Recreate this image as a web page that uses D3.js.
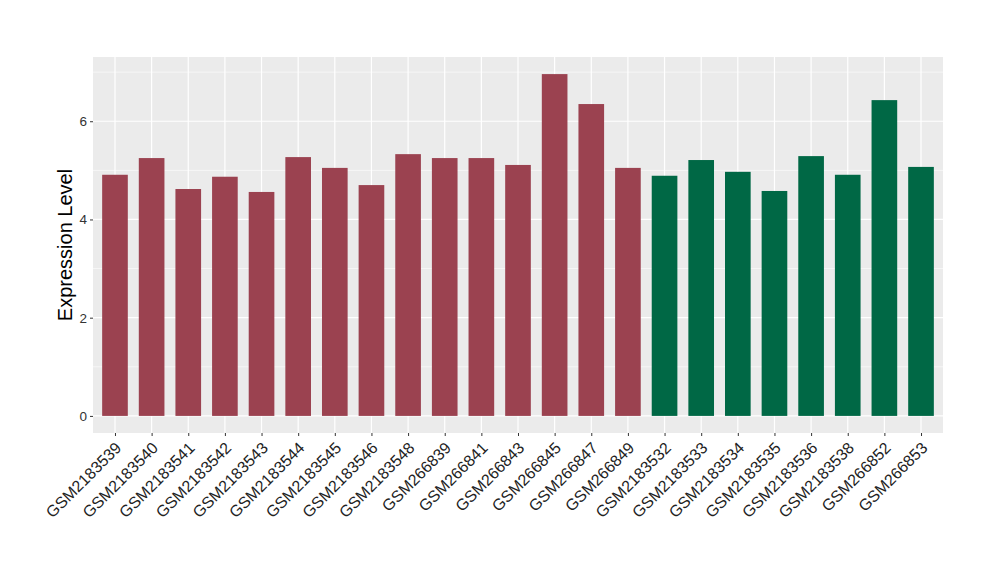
<!DOCTYPE html>
<html>
<head>
<meta charset="utf-8">
<script src="https://cdn.jsdelivr.net/npm/d3@7"></script>
<style>
  body { margin: 0; background: #fff; }
  svg { display: block; font-family: "Liberation Sans", Arial, sans-serif; }
</style>
</head>
<body>
<svg id="chart" width="1000" height="580"></svg>
<script>
const samples = ["GSM2183539","GSM2183540","GSM2183541","GSM2183542","GSM2183543","GSM2183544","GSM2183545","GSM2183546","GSM2183548","GSM266839","GSM266841","GSM266843","GSM266845","GSM266847","GSM266849","GSM2183532","GSM2183533","GSM2183534","GSM2183535","GSM2183536","GSM2183538","GSM266852","GSM266853"];
const values = [4.91,5.25,4.62,4.87,4.56,5.27,5.05,4.70,5.33,5.25,5.25,5.11,6.96,6.35,5.05,4.89,5.21,4.97,4.58,5.29,4.91,6.43,5.07];
const groups = ["A","A","A","A","A","A","A","A","A","A","A","A","A","A","A","B","B","B","B","B","B","B","B"];
const yTicks = [0,2,4,6];
const yMinor = [1,3,5,7];
const groupColors = {A: "#9b4250", B: "#006845"};

const svg = d3.select("#chart");
const m = {left: 93, right: 57, top: 57, bottom: 147};
const W = 1000, H = 580;
const pw = W - m.left - m.right, ph = H - m.top - m.bottom;

const ymax = d3.max(values);
const yexp = ymax * 0.05;
const y = d3.scaleLinear().domain([-yexp, ymax + yexp]).range([m.top + ph, m.top]);

const n = samples.length;
const unit = pw / (n - 1 + 1.2);
const x = d3.scalePoint().domain(samples).range([m.left + 0.6 * unit, m.left + pw - 0.6 * unit]);
const bw = unit * 0.7;

// panel background
svg.append("rect").attr("x", m.left).attr("y", m.top).attr("width", pw).attr("height", ph).attr("fill", "#ebebeb");

// minor grid
svg.append("g").selectAll("line").data(yMinor).join("line")
  .attr("x1", m.left).attr("x2", m.left + pw)
  .attr("y1", d => y(d)).attr("y2", d => y(d))
  .attr("stroke", "#fff").attr("stroke-width", 0.6);
// major grid
svg.append("g").selectAll("line").data(yTicks).join("line")
  .attr("x1", m.left).attr("x2", m.left + pw)
  .attr("y1", d => y(d)).attr("y2", d => y(d))
  .attr("stroke", "#fff").attr("stroke-width", 1.2);
svg.append("g").selectAll("line").data(samples).join("line")
  .attr("x1", d => x(d)).attr("x2", d => x(d))
  .attr("y1", m.top).attr("y2", m.top + ph)
  .attr("stroke", "#fff").attr("stroke-width", 1.2);

// bars
svg.append("g").selectAll("rect").data(samples).join("rect")
  .attr("x", d => x(d) - bw / 2)
  .attr("width", bw)
  .attr("y", (d, i) => y(values[i]))
  .attr("height", (d, i) => y(0) - y(values[i]))
  .attr("fill", (d, i) => groupColors[groups[i]]);

// y axis
const yAxis = svg.append("g").attr("transform", `translate(${m.left},0)`)
  .call(d3.axisLeft(y).tickValues(yTicks).tickSize(3).tickPadding(3).tickFormat(d3.format("d")));
yAxis.select(".domain").remove();
yAxis.selectAll(".tick line").attr("stroke", "#333");
yAxis.selectAll(".tick text").attr("fill", "#333").style("font-size", "13.5px");

// x axis
const xAxis = svg.append("g").attr("transform", `translate(0,${m.top + ph})`)
  .call(d3.axisBottom(x).tickSize(3).tickPadding(3));
xAxis.select(".domain").remove();
xAxis.selectAll(".tick line").attr("stroke", "#333");
xAxis.selectAll(".tick text")
  .attr("fill", "#222")
  .style("font-size", "16px")
  .attr("text-anchor", "end")
  .attr("dy", null)
  .attr("transform", "translate(-1,8) rotate(-45)")
  .attr("y", 0).attr("x", 0)
  .attr("dominant-baseline", "hanging");

// y title
svg.append("text")
  .attr("transform", `translate(72,${m.top + ph / 2}) rotate(-90)`)
  .attr("text-anchor", "middle")
  .style("font-size", "20px")
  .attr("fill", "#000")
  .text("Expression Level");
</script>
</body>
</html>
